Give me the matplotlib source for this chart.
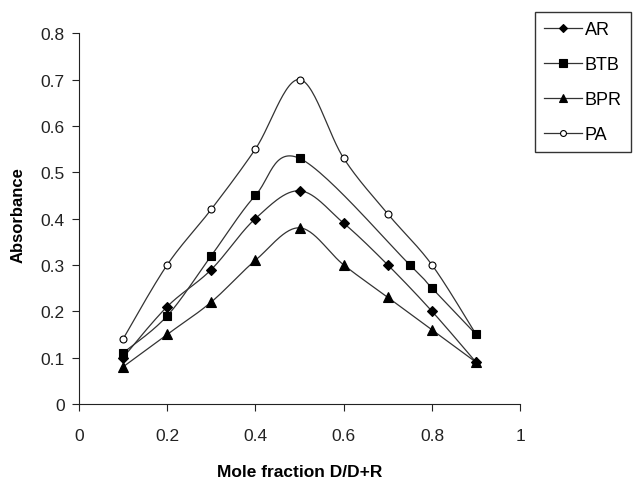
import numpy as np
import matplotlib
matplotlib.use("Agg")
import matplotlib.pyplot as plt
from matplotlib.lines import Line2D

plt.rcParams['font.family'] = ['Liberation Sans', 'DejaVu Sans']

# data
x_main = [0.1, 0.2, 0.3, 0.4, 0.5, 0.6, 0.7, 0.8, 0.9]
ar = [0.10, 0.21, 0.29, 0.40, 0.46, 0.39, 0.30, 0.20, 0.09]
bpr = [0.08, 0.15, 0.22, 0.31, 0.38, 0.30, 0.23, 0.16, 0.09]
pa = [0.14, 0.30, 0.42, 0.55, 0.70, 0.53, 0.41, 0.30, 0.15]
x_btb = [0.1, 0.2, 0.3, 0.4, 0.5, 0.75, 0.8, 0.9]
btb = [0.11, 0.19, 0.32, 0.45, 0.53, 0.30, 0.25, 0.15]

# name, x, y, marker, face colour, size, zorder
series = [
    ("AR", x_main, ar, "D", "black", 5, 4),
    ("BTB", x_btb, btb, "s", "black", 6.2, 5),
    ("BPR", x_main, bpr, "^", "black", 6.5, 4),
    ("PA", x_main, pa, "o", "white", 5, 3),
]


def smooth(xs, ys, n=30):
    # Excel-style smoothed line (cubic Bezier, 1/6 tangents)
    p = np.column_stack([xs, ys])
    pts = np.vstack([p[0], p, p[-1]])
    out = []
    for i in range(1, len(pts) - 2):
        p0, p1, p2, p3 = pts[i - 1], pts[i], pts[i + 1], pts[i + 2]
        c1 = p1 + (p2 - p0) / 6
        c2 = p2 - (p3 - p1) / 6
        t = np.linspace(0, 1, n)[:, None]
        seg = ((1 - t) ** 3) * p1 + 3 * ((1 - t) ** 2) * t * c1 + 3 * (1 - t) * t ** 2 * c2 + t ** 3 * p2
        out.append(seg if i == 1 else seg[1:])
    c = np.vstack(out)
    return c[:, 0], c[:, 1]


fig = plt.figure(figsize=(6.36, 4.81), dpi=100)
ax = fig.add_axes([0.124, 0.158, 0.694, 0.771])

handles = []
for name, xs, ys, m, fc, ms, z in series:
    sx, sy = smooth(xs, ys)
    ax.plot(sx, sy, color="#333333", lw=0.9, zorder=2)
    ax.plot(xs, ys, ls="none", marker=m, ms=ms, mfc=fc, mec="black", mew=0.8, zorder=z)
    handles.append(Line2D([], [], color="#333333", lw=0.9, marker=m,
                          ms=ms * 0.85, mfc=fc, mec="black", mew=0.8, label=name))

ax.set_xlim(0, 1)
ax.set_ylim(0, 0.8)
ax.set_xticks(np.arange(0, 1.01, 0.2))
ax.set_xticklabels(["0", "0.2", "0.4", "0.6", "0.8", "1"])
ax.set_yticks(np.arange(0, 0.81, 0.1))
ax.set_yticklabels(["0", "0.1", "0.2", "0.3", "0.4", "0.5", "0.6", "0.7", "0.8"])
ax.spines["top"].set_visible(False)
ax.spines["right"].set_visible(False)
ax.spines["left"].set_color("#222222")
ax.spines["bottom"].set_color("#222222")
ax.tick_params(direction="out", length=5, width=0.8, labelsize=12.5, colors="#222222")
ax.tick_params(axis="x", pad=12)
ax.tick_params(axis="y", pad=5)
ax.set_xlabel("Mole fraction D/D+R", fontsize=12.5, fontweight="bold")
ax.xaxis.set_label_coords(0.5, -0.162)
ax.set_ylabel("Absorbance", fontsize=12, fontweight="bold")
ax.yaxis.set_label_coords(-0.12, 0.512)

fig.legend(handles=handles, loc="upper left", bbox_to_anchor=(0.841, 0.973),
           frameon=True, fancybox=False, edgecolor="black", fontsize=13,
           handlelength=2.1, handletextpad=0.15, labelspacing=1.0, borderpad=0.5,
           borderaxespad=0)

fig.savefig("out.png", dpi=100)
